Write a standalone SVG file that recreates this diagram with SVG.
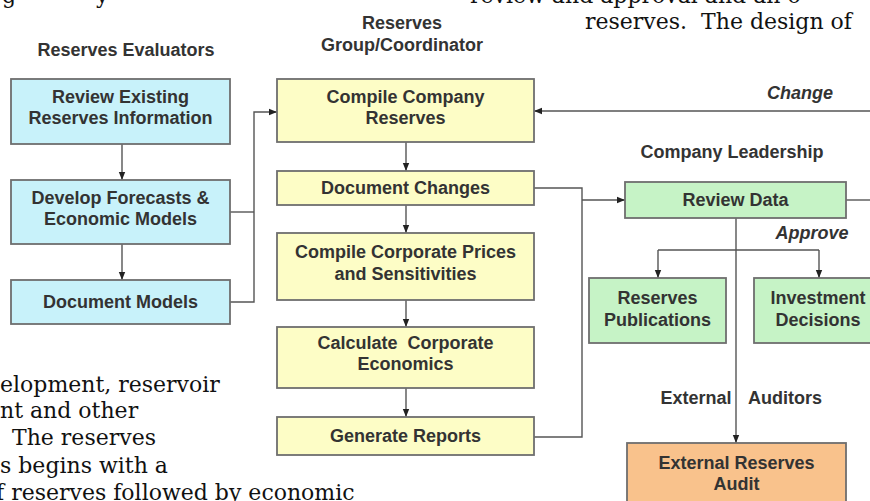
<svg xmlns="http://www.w3.org/2000/svg" width="870" height="501" viewBox="0 0 870 501">
<defs>
<style>
.bg{font-family:"DejaVu Serif","Liberation Serif",serif;font-size:22px;fill:#111;white-space:pre}
.t{font-family:"Liberation Sans",Arial,sans-serif;font-size:18px;font-weight:bold;fill:#333;text-anchor:middle;white-space:pre}
.it{font-style:italic}
.box{stroke:#6e6e6e;stroke-width:1.8}
.blue{fill:#c8f2fa}
.yel{fill:#fdfdc6}
.grn{fill:#c6f3c6}
.org{fill:#f9c28c}
.c{fill:none;stroke:#555;stroke-width:1.4}
</style>
<marker id="ah" viewBox="0 0 10 10" refX="10" refY="5" markerWidth="8" markerHeight="8" markerUnits="userSpaceOnUse" orient="auto">
<path d="M0,1 L10,5 L0,9 z" fill="#222"/>
</marker>
</defs>
<rect width="870" height="501" fill="#fff"/>

<g id="background-text" xml:space="preserve">
<text class="bg" x="2" y="3">g</text>
<text class="bg" x="96" y="3">y</text>
<text class="bg" x="470" y="3">review and approval and an o</text>
<text class="bg" x="585" y="29">reserves.  The design of</text>
<text class="bg" x="0" y="392">elopment, reservoir</text>
<text class="bg" x="0" y="418">nt and other</text>
<text class="bg" x="12" y="445">The reserves</text>
<text class="bg" x="0" y="473">s begins with a</text>
<text class="bg" x="-4" y="500">f reserves followed by economic</text>
</g>

<g id="labels">
<text class="t" x="126" y="56">Reserves Evaluators</text>
<text class="t" x="402" y="29">Reserves</text>
<text class="t" x="402" y="51">Group/Coordinator</text>
<text class="t it" x="800" y="99">Change</text>
<text class="t" x="732" y="158">Company Leadership</text>
<text class="t it" x="812" y="239">Approve</text>
<text class="t" x="696" y="404">External</text>
<text class="t" x="785" y="404">Auditors</text>
</g>

<g id="connectors">
<line class="c" x1="122" y1="144" x2="122" y2="180" marker-end="url(#ah)"/>
<line class="c" x1="122" y1="244" x2="122" y2="280" marker-end="url(#ah)"/>
<polyline class="c" points="230,212 254,212"/>
<polyline class="c" points="230,302 254,302 254,112 277,112" marker-end="url(#ah)"/>
<line class="c" x1="406" y1="142" x2="406" y2="171" marker-end="url(#ah)"/>
<line class="c" x1="406" y1="205" x2="406" y2="233" marker-end="url(#ah)"/>
<line class="c" x1="406" y1="300" x2="406" y2="327" marker-end="url(#ah)"/>
<line class="c" x1="406" y1="388" x2="406" y2="417" marker-end="url(#ah)"/>
<polyline class="c" points="534,188 582,188 582,437 534,437"/>
<line class="c" x1="582" y1="200" x2="625" y2="200" marker-end="url(#ah)"/>
<line class="c" x1="846" y1="200" x2="872" y2="200"/>
<line class="c" x1="872" y1="111" x2="534" y2="111" marker-end="url(#ah)"/>
<line class="c" x1="736" y1="218" x2="736" y2="443" marker-end="url(#ah)"/>
<line class="c" x1="658" y1="250" x2="819" y2="250"/>
<line class="c" x1="658" y1="250" x2="658" y2="278" marker-end="url(#ah)"/>
<line class="c" x1="819" y1="250" x2="819" y2="278" marker-end="url(#ah)"/>
</g>

<g id="review-existing">
<rect class="box blue" x="11" y="79" width="219" height="65"/>
<text class="t" x="120.5" y="103">Review Existing</text>
<text class="t" x="120.5" y="124">Reserves Information</text>
</g>
<g id="develop-forecasts">
<rect class="box blue" x="11" y="180" width="219" height="64"/>
<text class="t" x="120.5" y="204">Develop Forecasts &amp;</text>
<text class="t" x="120.5" y="225">Economic Models</text>
</g>
<g id="document-models">
<rect class="box blue" x="11" y="280" width="219" height="44"/>
<text class="t" x="120.5" y="308">Document Models</text>
</g>

<g id="compile-company-reserves">
<rect class="box yel" x="277" y="79" width="257" height="63"/>
<text class="t" x="405.5" y="103">Compile Company</text>
<text class="t" x="405.5" y="124">Reserves</text>
</g>
<g id="document-changes">
<rect class="box yel" x="277" y="171" width="257" height="34"/>
<text class="t" x="405.5" y="194">Document Changes</text>
</g>
<g id="compile-corporate-prices">
<rect class="box yel" x="277" y="233" width="257" height="67"/>
<text class="t" x="405.5" y="258">Compile Corporate Prices</text>
<text class="t" x="405.5" y="280">and Sensitivities</text>
</g>
<g id="calculate-economics">
<rect class="box yel" x="277" y="327" width="257" height="61"/>
<text class="t" x="405.5" y="349">Calculate  Corporate</text>
<text class="t" x="405.5" y="370">Economics</text>
</g>
<g id="generate-reports">
<rect class="box yel" x="277" y="417" width="257" height="38"/>
<text class="t" x="405.5" y="442">Generate Reports</text>
</g>

<g id="review-data">
<rect class="box grn" x="625" y="182" width="221" height="36"/>
<text class="t" x="735.5" y="206">Review Data</text>
</g>
<g id="reserves-publications">
<rect class="box grn" x="589" y="278" width="137" height="65"/>
<text class="t" x="657.5" y="304">Reserves</text>
<text class="t" x="657.5" y="326">Publications</text>
</g>
<g id="investment-decisions">
<rect class="box grn" x="754" y="278" width="128" height="65"/>
<text class="t" x="818" y="304">Investment</text>
<text class="t" x="818" y="326">Decisions</text>
</g>
<g id="external-audit">
<rect class="box org" x="627" y="443" width="219" height="70"/>
<text class="t" x="736.5" y="469">External Reserves</text>
<text class="t" x="736.5" y="490">Audit</text>
</g>
</svg>
